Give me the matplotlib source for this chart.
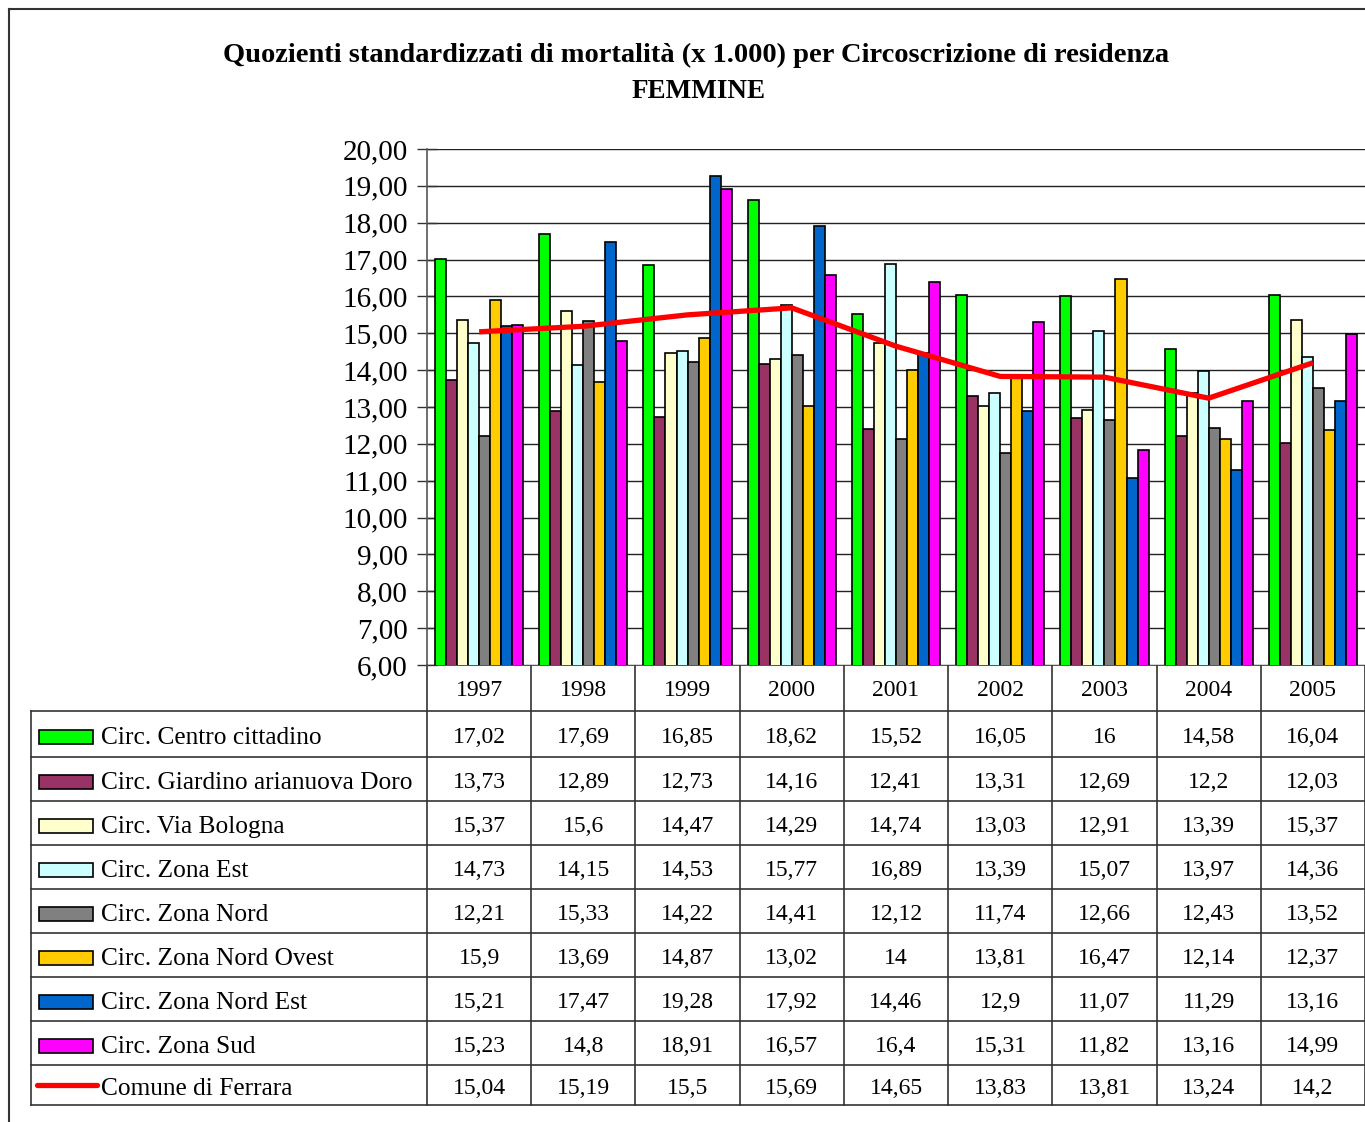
import numpy as np
import matplotlib.pyplot as plt
from matplotlib.patches import Rectangle
from matplotlib.lines import Line2D

plt.rcParams['font.family'] = ['Liberation Serif', 'DejaVu Serif']

# data
years = ['1997', '1998', '1999', '2000', '2001', '2002', '2003', '2004', '2005']
series_names = [
    'Circ. Centro cittadino',
    'Circ. Giardino arianuova Doro',
    'Circ. Via Bologna',
    'Circ. Zona Est',
    'Circ. Zona Nord',
    'Circ. Zona Nord Ovest',
    'Circ. Zona Nord Est',
    'Circ. Zona Sud',
]
centro = [17.02, 17.69, 16.85, 18.62, 15.52, 16.05, 16, 14.58, 16.04]
giardino = [13.73, 12.89, 12.73, 14.16, 12.41, 13.31, 12.69, 12.2, 12.03]
via_bologna = [15.37, 15.6, 14.47, 14.29, 14.74, 13.03, 12.91, 13.39, 15.37]
zona_est = [14.73, 14.15, 14.53, 15.77, 16.89, 13.39, 15.07, 13.97, 14.36]
zona_nord = [12.21, 15.33, 14.22, 14.41, 12.12, 11.74, 12.66, 12.43, 13.52]
zona_nord_ovest = [15.9, 13.69, 14.87, 13.02, 14, 13.81, 16.47, 12.14, 12.37]
zona_nord_est = [15.21, 17.47, 19.28, 17.92, 14.46, 12.9, 11.07, 11.29, 13.16]
zona_sud = [15.23, 14.8, 18.91, 16.57, 16.4, 15.31, 11.82, 13.16, 14.99]
comune_name = 'Comune di Ferrara'
comune = [15.04, 15.19, 15.5, 15.69, 14.65, 13.83, 13.81, 13.24, 14.2]

series = [centro, giardino, via_bologna, zona_est, zona_nord,
          zona_nord_ovest, zona_nord_est, zona_sud]
colors = ['#00FF00', '#993366', '#FFFFCC', '#CCFFFF', '#808080',
          '#FFCC00', '#0066CC', '#FF00FF']
line_color = '#FF0000'

W, H = 1365, 1122
fig = plt.figure(figsize=(W / 100, H / 100), dpi=100)

# chart area in pixels
px_left, px_right, px_top, px_bottom = 427, 1365, 149, 665
ax = fig.add_axes([px_left / W, (H - px_bottom) / H,
                   (px_right - px_left) / W, (px_bottom - px_top) / H])

x = np.arange(len(years))
bw = 1 / (8 + 1.45)
for i, (vals, c) in enumerate(zip(series, colors)):
    ax.bar(x + (i - 3.5) * bw, vals, width=bw, color=c, edgecolor='black',
           linewidth=1.2, zorder=2)
ax.plot(x, comune, color=line_color, linewidth=3.8, zorder=3,
        solid_capstyle='butt')

ax.set_xlim(-0.5, len(years) - 0.5)
ax.set_ylim(6, 20)
ax.set_yticks(np.arange(6, 21, 1))
ax.set_yticklabels([f'{v:.2f}'.replace('.', ',') for v in np.arange(6, 21, 1)],
                   fontsize=21)
ax.set_xticks([])
ax.yaxis.grid(True, color='#222222', linewidth=1.0, zorder=0)
ax.set_axisbelow(True)
ax.tick_params(axis='y', direction='inout', length=14, width=1, color='#333333', pad=7)
for s in ['top', 'right', 'bottom']:
    ax.spines[s].set_visible(False)
ax.spines['left'].set_color('#555555')
ax.spines['left'].set_linewidth(1.2)

# overlay in pixel coordinates for title, border and data table
ov = fig.add_axes([0, 0, 1, 1], zorder=-1)
ov.set_xlim(0, W)
ov.set_ylim(H, 0)
ov.axis('off')

# outer frame
ov.plot([9, 9], [9, 1122], color='#333333', lw=1.5)
ov.plot([9, W], [9, 9], color='#333333', lw=1.5)

ov.text(696, 55, 'Quozienti standardizzati di mortalità (x 1.000) per Circoscrizione di residenza',
        ha='center', va='center', fontsize=20.5, fontweight='bold')
ov.text(699, 91, 'FEMMINE', ha='center', va='center', fontsize=19.5, fontweight='bold')

# table geometry
tbl_left = 31
col_w = (px_right - px_left) / len(years)
row_lines = [711, 757, 801, 845, 889, 933, 977, 1021, 1065, 1105]
lc = '#333333'

# header row
ov.plot([px_left, px_right], [px_bottom, px_bottom], color=lc, lw=1.2)
for j, yr in enumerate(years):
    ov.text(px_left + (j + 0.5) * col_w, (px_bottom + row_lines[0]) / 2 + 2, yr,
            ha='center', va='center', fontsize=17)
# horizontal lines
for yl in row_lines:
    ov.plot([tbl_left, px_right], [yl, yl], color=lc, lw=1.2)
# vertical lines
ov.plot([tbl_left, tbl_left], [row_lines[0], row_lines[-1]], color=lc, lw=1.2)
for j in range(len(years) + 1):
    ov.plot([px_left + j * col_w] * 2, [px_bottom, row_lines[-1]], color=lc, lw=1.2)

all_rows = series + [comune]
all_names = series_names + [comune_name]
for r, (name, vals) in enumerate(zip(all_names, all_rows)):
    y0, y1 = row_lines[r], row_lines[r + 1]
    yc = (y0 + y1) / 2 + 3
    if r < len(colors):
        ov.add_patch(Rectangle((39, yc - 7), 54, 14, facecolor=colors[r],
                               edgecolor='black', lw=1.2))
    else:
        ov.add_line(Line2D([37, 97], [yc - 3, yc - 3], color=line_color, lw=3.8,
                           solid_capstyle='round'))
    ov.text(101, yc + 1, name, ha='left', va='center', fontsize=18.3)
    for j, v in enumerate(vals):
        ov.text(px_left + (j + 0.5) * col_w, yc, f'{v:g}'.replace('.', ','),
                ha='center', va='center', fontsize=17)

fig.savefig('out.png', dpi=100)
